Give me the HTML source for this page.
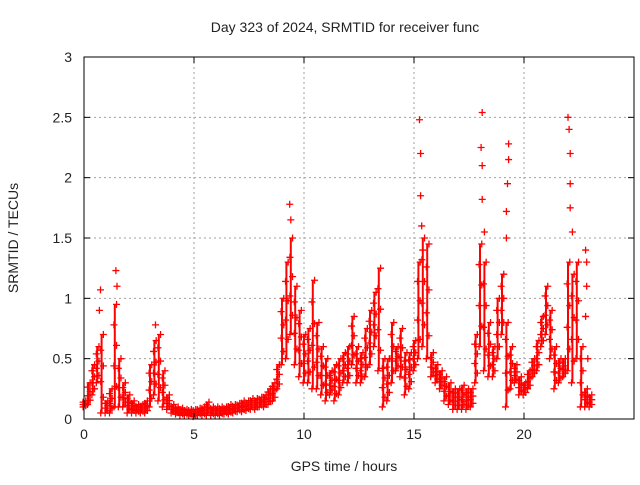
<!DOCTYPE html>
<html><head><meta charset="utf-8"><style>
body{margin:0;background:#fff}
svg text{font-family:"Liberation Sans",sans-serif;font-size:14px;fill:#222}
</style></head><body>
<svg id="chart" width="640" height="480" xmlns="http://www.w3.org/2000/svg">
<text x="345" y="32" text-anchor="middle">Day 323 of 2024, SRMTID for receiver func</text>
<text x="344" y="471" text-anchor="middle">GPS time / hours</text>
<text x="18" y="238" text-anchor="middle" transform="rotate(-90 18 238)">SRMTID / TECUs</text>
<g id="grid"></g><g id="marks"></g><g id="axes"></g>
</svg>
<script>
const xTicks=[0,5,10,15,20];
const yTicks=[0,0.5,1,1.5,2,2.5,3];
const yTickLabels=["0","0.5","1","1.5","2","2.5","3"];
const timeStep=0.2;
const loVals=[.1,.12,.2,.3,.05,.05,.05,.1,.1,.1,.05,.05,.05,.05,.05,.1,.2,.15,.1,.08,.05,.04,.03,.03,.03,.02,.03,.03,.03,.03,.03,.03,.04,.04,.05,.06,.06,.07,.08,.08,.1,.1,.12,.15,.25,.45,.5,.7,.45,.35,.3,.3,.25,.25,.2,.15,.2,.15,.2,.3,.3,.45,.3,.3,.35,.45,.6,.4,.1,.15,.3,.4,.35,.2,.25,.4,.5,.6,.5,.35,.3,.25,.15,.12,.08,.08,.08,.08,.1,.3,.6,.4,.35,.35,.5,.7,.1,.25,.3,.2,.2,.25,.35,.4,.6,.7,.5,.25,.3,.35,.4,.3,.5,.1,.1,.1];
const hiVals=[.15,.3,.45,.6,.7,.15,.25,.95,.5,.3,.2,.15,.12,.12,.15,.45,.65,.7,.4,.2,.12,.1,.09,.08,.08,.08,.09,.1,.14,.1,.1,.1,.1,.12,.12,.13,.15,.15,.17,.17,.18,.2,.25,.3,.45,1.0,1.3,1.5,1.1,.9,.7,.75,1.15,.8,.6,.5,.4,.45,.5,.55,.6,.85,.6,.55,.75,.9,1.05,1.25,.5,.5,.8,.6,.75,.55,.55,.65,1.3,1.5,1.45,.55,.45,.4,.35,.3,.25,.25,.28,.25,.25,.7,1.45,1.3,.8,.6,1.0,1.2,.8,.6,.45,.35,.3,.4,.5,.65,.85,1.1,.9,.6,.5,.5,1.3,1.2,1.3,.6,.25,.2];
const spikeTimes=[0.75,0.7,1.45,1.5,3.25,9.35,9.4,15.25,15.3,15.3,15.35,15.4,18.1,18.05,18.1,18.1,18.2,19.3,19.3,19.25,19.2,19.2,22.0,22.05,22.1,22.1,22.1,22.2,22.8,22.85,22.85,22.8,22.9];
const spikeVals=[1.07,0.9,1.23,1.1,0.78,1.78,1.65,2.48,2.2,1.85,1.6,1.4,2.54,2.25,2.1,1.82,1.55,2.28,2.15,1.95,1.72,1.5,2.5,2.4,2.2,1.95,1.75,1.55,1.4,1.3,1.1,0.85,0.5];
const NS="http://www.w3.org/2000/svg";
const L=84,R=634,T=57,B=419;
const xs=h=>L+(h/25)*(R-L);
const ys=v=>B-(v/3)*(B-T);
function mk(tag,attrs,parent){const e=document.createElementNS(NS,tag);for(const k in attrs)e.setAttribute(k,attrs[k]);parent.appendChild(e);return e;}
const grid=document.getElementById('grid'),marks=document.getElementById('marks'),axes=document.getElementById('axes');
xTicks.forEach(t=>{
 if(t>0){const g=mk('line',{x1:xs(t),x2:xs(t),y1:T,y2:B,stroke:'#a0a0a0','stroke-dasharray':'2,3'},grid);
 
 }
 const tl=mk('text',{x:xs(t),y:B+20,'text-anchor':'middle'},axes);tl.textContent=t;
 
 
 mk('line',{x1:xs(t),x2:xs(t),y1:B,y2:B-6,stroke:'#000'},axes);
 mk('line',{x1:xs(t),x2:xs(t),y1:T,y2:T+6,stroke:'#000'},axes);
});
yTicks.forEach((v,i)=>{
 if(v>0&&v<3){const g=mk('line',{x1:L,x2:R,y1:ys(v),y2:ys(v),stroke:'#a0a0a0','stroke-dasharray':'2,3'},grid);
 
 }
 const tl=mk('text',{x:L-12,y:ys(v)+5,'text-anchor':'end'},axes);tl.textContent=yTickLabels[i];
 
 
 mk('line',{x1:L,x2:L+6,y1:ys(v),y2:ys(v),stroke:'#000'},axes);
 mk('line',{x1:R,x2:R-6,y1:ys(v),y2:ys(v),stroke:'#000'},axes);
});
const box=mk('rect',{x:L,y:T,width:R-L,height:B-T,fill:'none',stroke:'#000'},axes);


function plus(t,v,col){const x=xs(t),y=ys(v);
 const p=mk('path',{d:`M${x-3.5},${y}H${x+3.5}M${x},${y-3.5}V${y+3.5}`,stroke:col,'stroke-width':1.3},marks);
 
 }
loVals.forEach((lo,i)=>{
 const t=i*timeStep,hi=hiVals[i];
 const r=mk('line',{x1:xs(t),x2:xs(t),y1:ys(lo),y2:ys(hi),stroke:'#f00','stroke-width':2},marks);
 
 
 [0,0.2,0.4,0.6,0.8,1].forEach((f,k)=>plus(t+(k%2?0.08:-0.04),lo+(hi-lo)*f,'#f00'));
});
spikeTimes.forEach((t,i)=>{plus(t,spikeVals[i],'#f00');});
</script>
</body></html>
